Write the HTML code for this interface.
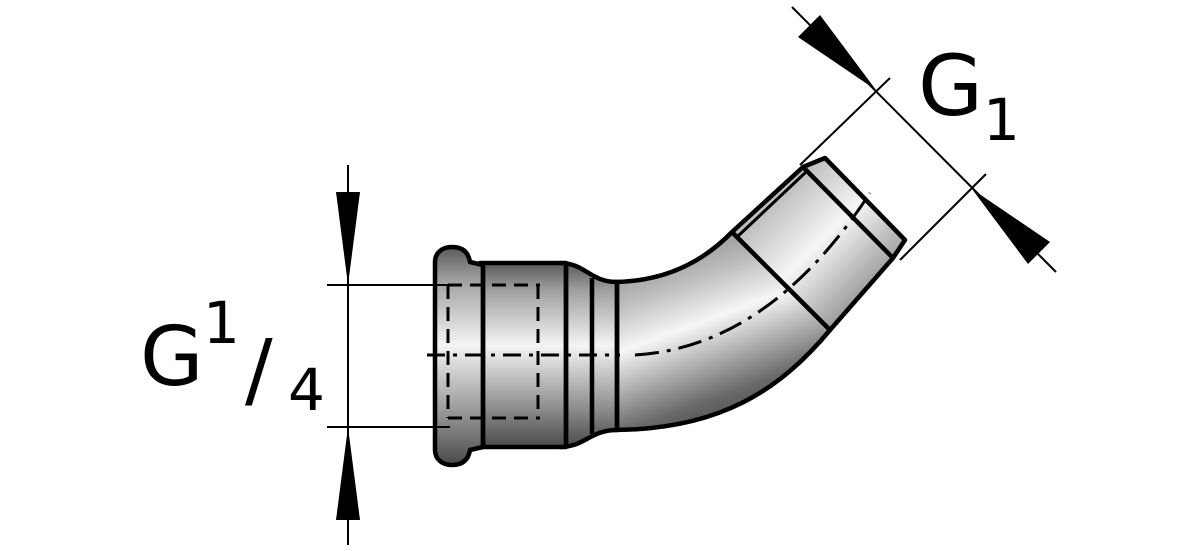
<!DOCTYPE html>
<html><head><style>html,body{margin:0;padding:0;background:#fff;width:1181px;height:551px;overflow:hidden}</style></head>
<body>
<svg width="1181" height="551" viewBox="0 0 1181 551" xmlns="http://www.w3.org/2000/svg">
<defs>
<linearGradient id="gv" x1="0" y1="0" x2="0" y2="1">
<stop offset="0" stop-color="#5a5a5a"/><stop offset="0.15" stop-color="#a0a0a0"/><stop offset="0.45" stop-color="#f4f4f4"/><stop offset="0.8" stop-color="#8a8a8a"/><stop offset="1" stop-color="#4a4a4a"/></linearGradient>
<linearGradient id="gb" x1="0.1" y1="0" x2="0.5" y2="1">
<stop offset="0" stop-color="#7a7a7a"/><stop offset="0.3" stop-color="#bdbdbd"/><stop offset="0.5" stop-color="#f6f6f6"/><stop offset="0.85" stop-color="#6a6a6a"/><stop offset="1" stop-color="#4a4a4a"/></linearGradient>
<linearGradient id="gd" x1="0" y1="0" x2="1" y2="1">
<stop offset="0" stop-color="#888"/><stop offset="0.5" stop-color="#f6f6f6"/><stop offset="1" stop-color="#555"/></linearGradient>
</defs>
<g stroke="#000" stroke-width="4.5" stroke-linejoin="round">
<path d="M612 282 C660 282 700 265 732 232 L830 330 C780 390 720 430 612 430 Z" fill="url(#gb)"/>
<path d="M732 232 L803 167 L825 158 L905 240 L893 258 L830 330 Z" fill="url(#gd)"/>
<path d="M560 263 C585 263 590 282 617 282 L617 430 C590 430 585 447 560 447 Z" fill="url(#gv)"/>
<rect x="480" y="263" width="86" height="184" fill="url(#gv)"/>
<path d="M483 265 L470 262 C468 250 460 247 452 247 C442 247 435 253 435 262 L435 450 C435 459 442 465 452 465 C460 465 468 462 470 450 L483 447 Z" fill="url(#gv)"/>
</g>
<g stroke="#000" stroke-width="4.5" fill="none">
<line x1="483" y1="263" x2="483" y2="447"/>
<line x1="566" y1="263" x2="566" y2="447"/>
<line x1="592" y1="278" x2="592" y2="434"/>
<line x1="617" y1="282" x2="617" y2="430"/>
<line x1="803" y1="167" x2="893" y2="258"/>
<line x1="737" y1="237" x2="806" y2="172" stroke-width="3"/>
</g>
<g stroke="#000" stroke-width="3" fill="none">
<path d="M448 285 L540 285 M448 418 L540 418 M538 285 L538 418 M448 285 L448 418" stroke-dasharray="14 8"/>
<path d="M427 355 L620 355" stroke-dasharray="18 8 4 8"/>
<path d="M635 355 C720 350 800 300 870 193" stroke-dasharray="24 8 4 8"/>
<line x1="327" y1="285" x2="450" y2="285" stroke-width="2"/>
<line x1="327" y1="427" x2="450" y2="427" stroke-width="2"/>
<line x1="348" y1="165" x2="348" y2="545" stroke-width="2"/>
<line x1="792" y1="7" x2="1056" y2="272" stroke-width="2"/>
<line x1="890" y1="78" x2="800" y2="165" stroke-width="2"/>
<line x1="986" y1="174" x2="900" y2="260" stroke-width="2"/>
</g>
<g fill="#000">
<polygon points="348,285 336,192 360,192"/>
<polygon points="348,427 336,520 360,520"/>
<polygon points="876,90 798,37 820,15"/>
<polygon points="972,189 1050,242 1028,264"/>
</g>
<g font-family="DejaVu Sans, Liberation Sans, sans-serif" fill="#000">
<text x="140" y="385" font-size="82">G</text>
<text x="203" y="343" font-size="58">1</text>
<text x="245" y="398" font-size="82">/</text>
<text x="288" y="410" font-size="58">4</text>
<text x="918" y="115" font-size="84">G</text>
<text x="983" y="140" font-size="58">1</text>
</g>
</svg>
</body></html>
